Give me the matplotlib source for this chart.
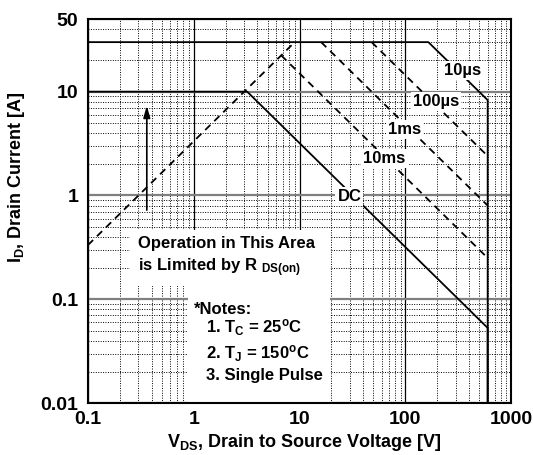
import numpy as np
import matplotlib
matplotlib.use('Agg')
import matplotlib.pyplot as plt
from matplotlib.ticker import FixedLocator, NullFormatter
from matplotlib.patches import Rectangle

plt.rcParams['font.family'] = 'Liberation Sans'
plt.rcParams['font.weight'] = 'bold'
plt.rcParams['mathtext.fontset'] = 'custom'
plt.rcParams['mathtext.rm'] = 'Liberation Sans:bold'
plt.rcParams['mathtext.bf'] = 'Liberation Sans:bold'
plt.rcParams['mathtext.it'] = 'Liberation Sans:bold'

# SOA boundary curves (V, A)
rds_v = [0.1, 9.0]
rds_i = [0.333, 30]
dc_v = [0.1, 3.2, 600, 600]
dc_i = [10, 10, 0.053, 0.01]
us10_v = [0.1, 165, 600, 600]
us10_i = [30, 30, 8.3, 0.01]
us100_v = [48, 600]
us100_i = [30, 2.4]
ms1_v = [16, 600]
ms1_i = [30, 0.8]
ms10_v = [6.7, 600]
ms10_i = [22.4, 0.25]

# curve labels: text, V, I
lbl_text = ['10\u00b5s', '100\u00b5s', '1ms', '10ms', 'DC']
lbl_v = [345, 196, 98, 63.5, 29.6]
lbl_i = [15.9, 8.0, 4.3, 2.27, 0.98]

xticks = [0.1, 1, 10, 100, 1000]
xtick_labels = ['0.1', '1', '10', '100', '1000']
yticks = [0.01, 0.1, 1, 10, 50]
ytick_labels = ['0.01', '0.1', '1', '10', '50']

fig = plt.figure(figsize=(5.33, 4.55), dpi=100)
ax = fig.add_axes([0.165, 0.114, 0.794, 0.844])
ax.set_xscale('log')
ax.set_yscale('log')
ax.set_xlim(0.1, 1000)
ax.set_ylim(0.01, 50)

xminor = [m * d for d in [0.1, 1, 10, 100] for m in range(2, 10)]
yminor = [m * d for d in [0.01, 0.1, 1] for m in range(2, 10)] + [20, 30, 40]
ax.xaxis.set_major_locator(FixedLocator(xticks))
ax.yaxis.set_major_locator(FixedLocator(yticks))
ax.xaxis.set_minor_locator(FixedLocator(xminor))
ax.yaxis.set_minor_locator(FixedLocator(yminor))
ax.xaxis.set_minor_formatter(NullFormatter())
ax.yaxis.set_minor_formatter(NullFormatter())
ax.set_xticklabels(xtick_labels, fontsize=14, fontweight='bold')
ax.set_yticklabels(ytick_labels, fontsize=14, fontweight='bold')
ax.tick_params(which='both', length=0)
ax.tick_params(axis='x', pad=6)
ax.tick_params(axis='y', pad=7)

ax.grid(True, which='minor', color='black', lw=0.7, ls=(0, (1, 1.5)))
ax.grid(True, which='major', axis='x', color='black', lw=0.9, ls='-')
ax.grid(True, which='major', axis='y', color='0.5', lw=1.6, ls='-')
for s in ax.spines.values():
    s.set_linewidth(1.5)

# white backing for note blocks
ax.add_patch(Rectangle((0.099, 0.305), 0.473, 0.145, transform=ax.transAxes,
                       facecolor='white', edgecolor='none', zorder=2))
ax.add_patch(Rectangle((0.236, 0.0), 0.336, 0.31, transform=ax.transAxes,
                       facecolor='white', edgecolor='none', zorder=2))

lw = 1.3
dash = (0, (4, 3))
ax.plot(rds_v, rds_i, color='black', lw=lw, ls=dash, zorder=3)
ax.plot(dc_v, dc_i, color='black', lw=lw, zorder=3)
ax.plot(us10_v, us10_i, color='black', lw=lw, zorder=3)
ax.plot(us100_v, us100_i, color='black', lw=lw, ls=dash, zorder=3)
ax.plot(ms1_v, ms1_i, color='black', lw=lw, ls=dash, zorder=3)
ax.plot(ms10_v, ms10_i, color='black', lw=lw, ls=dash, zorder=3)

for t, v, i in zip(lbl_text, lbl_v, lbl_i):
    ax.text(v, i, t, fontsize=12, fontweight='bold', ha='center', va='center', zorder=4,
            bbox=dict(facecolor='white', edgecolor='none', pad=1.5))

ax.annotate('', xy=(0.36, 7.8), xytext=(0.36, 0.68),
            arrowprops=dict(arrowstyle='-|>,head_length=0.7,head_width=0.2',
                            color='black', lw=1.2), zorder=3)

ax.text(0.296, 0.345, 'Operation in This Area', fontsize=12, fontweight='bold',
        ha='left', va='center', zorder=4)
ax.text(0.296, 0.2, r'is Limited by R $_{\mathbf{DS(on)}}$', fontsize=12, fontweight='bold',
        ha='left', va='center', zorder=4)
ax.text(1.0, 0.08, '*Notes:', fontsize=12, fontweight='bold', ha='left', va='center', zorder=4)
ax.text(1.3, 0.053, r'1. T$_\mathbf{C}$ = 25$^\mathbf{o}$C', fontsize=12,
        ha='left', va='center', zorder=4)
ax.text(1.3, 0.030, r'2. T$_\mathbf{J}$ = 150$^\mathbf{o}$C', fontsize=12,
        ha='left', va='center', zorder=4)
ax.text(1.3, 0.0186, '3. Single Pulse', fontsize=12, fontweight='bold',
        ha='left', va='center', zorder=4)

ax.set_xlabel(r'V$_\mathbf{DS}$, Drain to Source Voltage [V]', fontsize=13,
              fontweight='bold')
ax.set_ylabel(r'I$_\mathbf{D}$, Drain Current [A]', fontsize=13,
              fontweight='bold')
ax.xaxis.set_label_coords(0.51, -0.074)
ax.yaxis.set_label_coords(-0.145, 0.589)

fig.savefig('out.png', dpi=100)
